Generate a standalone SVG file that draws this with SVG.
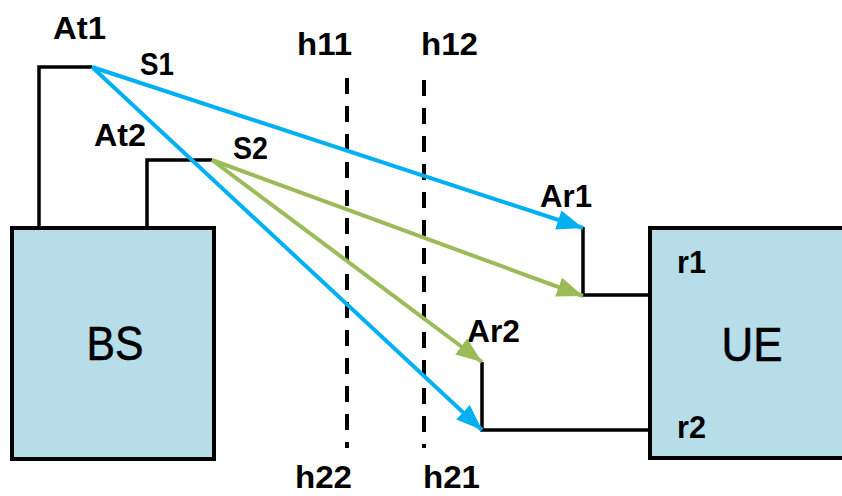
<svg xmlns="http://www.w3.org/2000/svg" width="842" height="496" viewBox="0 0 842 496">
<style>
.lbl{font-family:"Liberation Sans",Arial,sans-serif;font-weight:bold;font-size:31px;fill:#000}
.big{font-family:"Liberation Sans",Arial,sans-serif;font-size:49px;fill:#000;stroke:#000;stroke-width:0.6}
.box{fill:#B7DDE8;stroke:#000;stroke-width:4}
.wire{fill:none;stroke:#000;stroke-width:3.5}
.dash{fill:none;stroke:#000;stroke-width:4;stroke-dasharray:16 12}
.blue{fill:none;stroke:#00B0F0;stroke-width:4}
.green{fill:none;stroke:#9BBB59;stroke-width:4}
</style>
<defs>
<marker id="ab" markerUnits="userSpaceOnUse" markerWidth="28" markerHeight="22" refX="26" refY="10" orient="auto"><path d="M0,0 L26,10 L0,20 z" fill="#00B0F0"/></marker>
<marker id="ag" markerUnits="userSpaceOnUse" markerWidth="28" markerHeight="22" refX="26" refY="10" orient="auto"><path d="M0,0 L26,10 L0,20 z" fill="#9BBB59"/></marker>
</defs>
<rect width="842" height="496" fill="#fff"/>
<g id="BS">
<path class="wire" d="M39,228 V67 H92"/>
<path class="wire" d="M147,228 V160 H212"/>
<rect class="box" x="12" y="228" width="202" height="231"/>
<text class="big" x="115" y="360" text-anchor="middle" textLength="57" lengthAdjust="spacingAndGlyphs">BS</text>
<text class="lbl" x="53" y="39" textLength="53" lengthAdjust="spacingAndGlyphs">At1</text>
<text class="lbl" x="94" y="146" textLength="52" lengthAdjust="spacingAndGlyphs">At2</text>
<text class="lbl" x="140" y="75" textLength="34" lengthAdjust="spacingAndGlyphs">S1</text>
<text class="lbl" x="233" y="159" textLength="35" lengthAdjust="spacingAndGlyphs">S2</text>
</g>
<g id="UE">
<path class="wire" d="M583,227 V295 H650"/>
<path class="wire" d="M482,362 V430 H650"/>
<rect class="box" x="650" y="228" width="194" height="230"/>
<text class="big" x="752" y="361" text-anchor="middle" textLength="61" lengthAdjust="spacingAndGlyphs">UE</text>
<text class="lbl" x="677" y="273" textLength="29" lengthAdjust="spacingAndGlyphs">r1</text>
<text class="lbl" x="677" y="438" textLength="29" lengthAdjust="spacingAndGlyphs">r2</text>
<text class="lbl" x="540" y="207" textLength="52" lengthAdjust="spacingAndGlyphs">Ar1</text>
<text class="lbl" x="467" y="342" textLength="53" lengthAdjust="spacingAndGlyphs">Ar2</text>
</g>
<g id="planes">
<line class="dash" x1="347" y1="78" x2="347" y2="448"/>
<line class="dash" x1="424" y1="80" x2="424" y2="448"/>
<text class="lbl" x="297" y="55" textLength="55" lengthAdjust="spacingAndGlyphs">h11</text>
<text class="lbl" x="421" y="55" textLength="57" lengthAdjust="spacingAndGlyphs">h12</text>
<text class="lbl" x="295" y="488" textLength="57" lengthAdjust="spacingAndGlyphs">h22</text>
<text class="lbl" x="423" y="488" textLength="57" lengthAdjust="spacingAndGlyphs">h21</text>
</g>
<g id="connectors">
<line class="blue" x1="92" y1="67" x2="583" y2="228" marker-end="url(#ab)"/>
<line class="blue" x1="92" y1="67" x2="482" y2="430" marker-end="url(#ab)"/>
<line class="green" x1="212" y1="160" x2="583" y2="296" marker-end="url(#ag)"/>
<line class="green" x1="212" y1="160" x2="482" y2="362" marker-end="url(#ag)"/>
</g>
</svg>
